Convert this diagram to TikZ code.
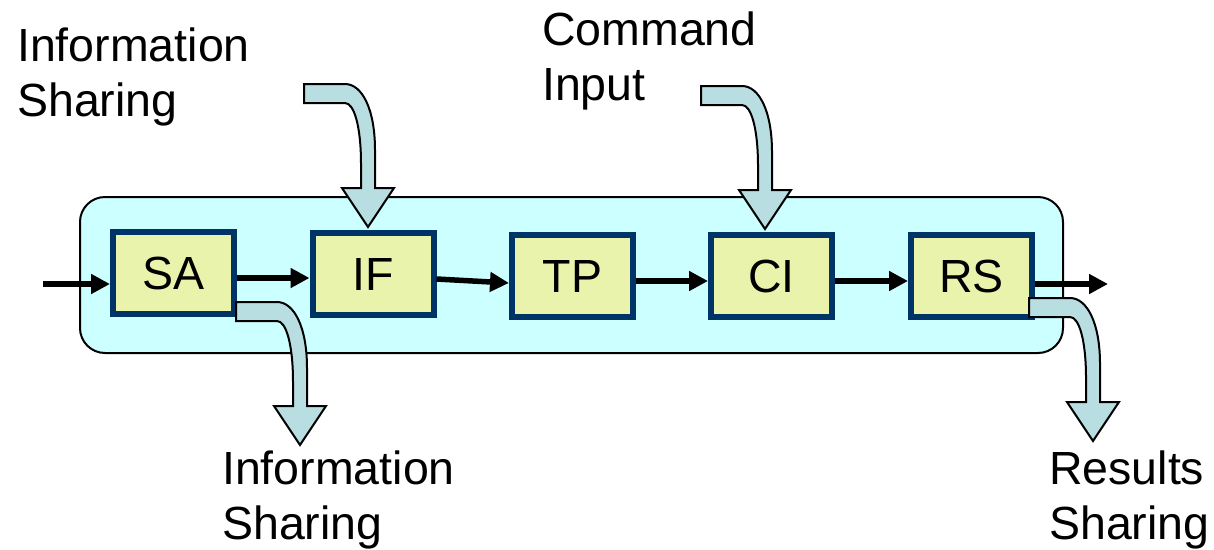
\documentclass[tikz,border=0pt]{standalone}
\usepackage{fontspec}
\setmainfont{Liberation Sans}
\usetikzlibrary{arrows.meta}
\definecolor{panelfill}{HTML}{CCFFFF}
\definecolor{boxfill}{HTML}{EAF3AB}
\definecolor{boxline}{HTML}{003366}
\definecolor{bentfill}{HTML}{B9DEE1}
\tikzset{
  panel/.style={draw=black, line width=2pt, fill=panelfill, rounded corners=25pt,
    minimum width=983pt, minimum height=156pt, inner sep=0pt},
  stagebox/.style={draw=boxline, line width=6pt, fill=boxfill, minimum width=121pt,
    minimum height=82pt, inner sep=0pt, font=\fontsize{46.5}{55}\selectfont},
  flow/.style={line width=5.5pt, -{Triangle[length=19pt,width=19pt]}},
  label/.style={anchor=base west, inner sep=0pt, align=left, font=\fontsize{46.5}{55}\selectfont},
  barrow/.style={draw=black, line width=2pt, fill=bentfill, line join=miter},
  bentarrow/.pic={\path[barrow] (0,0) -- (41,0) .. controls (58,0) and (71,25) .. (71,66)
     -- (71,104) -- (90,104) -- (64,143) -- (38,104) -- (57,104) -- (57,80)
     .. controls (57,42) and (50,19) .. (41,19) -- (0,19) -- cycle;}
}
\begin{document}
\begin{tikzpicture}[x=1pt,y=-1pt]
\useasboundingbox (0,0) rectangle (1214,549);
\node[panel] (frame) at (571.5,275) {};
\node[stagebox] (SA) at (173.5,273) {SA};
\node[stagebox] (IF) at (373,274) {IF};
\node[stagebox] (TP) at (572.5,276) {TP};
\node[stagebox] (CI) at (771.5,276) {CI};
\node[stagebox] (RS) at (971.5,276) {RS};
\coordinate (inp) at (43,284);
\coordinate (outp) at (1108,284);
\draw[flow] (inp) -- ([yshift=-11pt]SA.west);
\draw[flow] ([yshift=-5pt]SA.east) -- ([yshift=-4pt]IF.west);
\draw[flow] ([yshift=-5pt]IF.east) -- ([yshift=-7pt]TP.west);
\draw[flow] ([yshift=-5pt]TP.east) -- ([yshift=-5pt]CI.west);
\draw[flow] ([yshift=-5pt]CI.east) -- ([yshift=-5pt]RS.west);
\draw[flow] ([yshift=-8pt]RS.east) -- (outp);
\pic at (304,84) {bentarrow};
\pic at (701,86) {bentarrow};
\pic at (236,302) {bentarrow};
\pic at (1029,298) {bentarrow};
\node[label] (infoin) at (17,116) {Information\\Sharing};
\node[label] (cmdin) at (542,100) {Command\\Input};
\node[label] (infoout) at (222,539) {Information\\Sharing};
\node[label] (resout) at (1049,539) {Results\\Sharing};
\end{tikzpicture}
\end{document}
